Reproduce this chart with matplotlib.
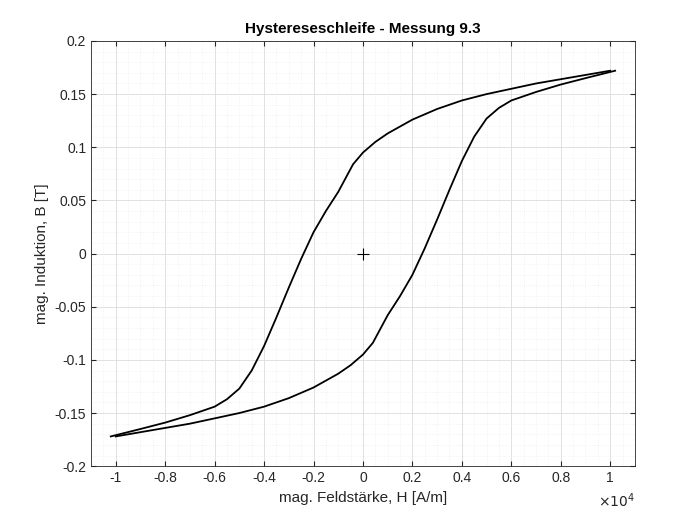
import matplotlib.pyplot as plt
import numpy as np

plt.rcParams['font.family'] = ['Liberation Sans', 'DejaVu Sans']

# descending branch (H in 1e4 A/m, B in T)
h_down = [1.0, 0.9, 0.8, 0.7, 0.6, 0.5, 0.4, 0.3, 0.2, 0.1, 0.05, 0.0, -0.04,
          -0.07, -0.1, -0.15, -0.2, -0.25, -0.3, -0.35, -0.4, -0.45, -0.5,
          -0.55, -0.6, -0.7, -0.8, -0.9, -1.02]
b_down = [0.172, 0.168, 0.164, 0.160, 0.155, 0.150, 0.144, 0.136, 0.126, 0.113,
          0.105, 0.095, 0.084, 0.071, 0.058, 0.040, 0.020, -0.005, -0.032,
          -0.060, -0.087, -0.110, -0.127, -0.137, -0.144, -0.152, -0.159,
          -0.165, -0.172]
# ascending branch mirrors the descending one
h_up = [-h for h in h_down]
b_up = [-b for b in b_down]

fig = plt.figure(figsize=(7, 5.25), dpi=100, facecolor="white")
ax = fig.add_axes([0.13, 0.112, 0.777, 0.81])

ax.plot(np.array(h_down) * 1e4, b_down, color="black", lw=1.3)
ax.plot(np.array(h_up) * 1e4, b_up, color="black", lw=1.3)
ax.plot([0], [0], marker="+", color="black", markersize=9, mew=0.8)


def lab(v):
    v = round(v, 2)
    return "0" if abs(v) < 1e-9 else "%g" % v


ax.set_xlim(-1.1e4, 1.1e4)
ax.set_ylim(-0.2, 0.2)
xt = np.arange(-1.0, 1.01, 0.2)
ax.set_xticks(xt * 1e4)
ax.set_xticklabels([lab(v) for v in xt])
yt = np.arange(-0.2, 0.201, 0.05)
ax.set_yticks(yt)
ax.set_yticklabels([lab(v) for v in yt])
ax.set_xticks(np.arange(-1.1, 1.11, 0.05) * 1e4, minor=True)
ax.set_yticks(np.arange(-0.2, 0.201, 0.01), minor=True)
ax.grid(True, which="major", color="#dcdcdc", lw=0.6)
ax.grid(True, which="minor", color="#ececec", lw=0.5, ls=":")
ax.tick_params(which="both", direction="in", labelsize=10, colors="#262626", top=True, right=True)
ax.tick_params(which="minor", length=0)
for s in ax.spines.values():
    s.set_color("#262626")
    s.set_linewidth(0.6)

ax.text(1.0, -0.06, r"$\times10^4$", transform=ax.transAxes, ha="right", va="top", fontsize=10, color="#262626")
ax.set_xlabel("mag. Feldstärke, H [A/m]", fontsize=11, color="#262626")
ax.set_ylabel("mag. Induktion, B [T]", fontsize=11, color="#262626")
ax.set_title("Hystereseschleife - Messung 9.3", fontsize=11, fontweight="bold")

fig.savefig("out.png", dpi=100)
